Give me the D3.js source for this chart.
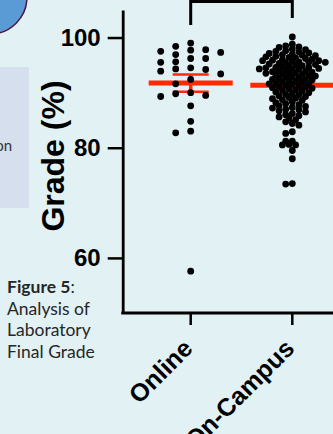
<!DOCTYPE html>
<html>
<head>
<meta charset="utf-8">
<script src="https://cdn.jsdelivr.net/npm/d3@7"></script>
<style>
  html, body { margin: 0; padding: 0; background: #e1f1f4; }
  svg { display: block; }
</style>
</head>
<body>
<svg id="chart" width="333" height="434"></svg>
<script>
// categories
const groups = ['Online', 'On-Campus'];

// grades (%)
const onlineGrades = [
  98.4, 96.9, 95.5, 94.3,
  99.0, 97.8, 96.2, 94.2, 92.4, 89.5,
  97.5, 96.2, 94.5, 91.6, 89.3, 87.6, 84.8, 82.7, 57.6,
  97.7, 93.4, 89.8, 83.0,
  97.3, 95.6, 93.9, 90.0
];

const campusGrades = [
  100.1,
  98.8, 98.5, 98.3, 98.2,
  97.9, 97.6, 97.4, 97.2, 97.0, 97.1, 97.5, 97.8,
  96.9, 96.7, 96.5, 96.3, 96.1, 96.0, 96.8, 96.4, 96.2, 96.6,
  95.9, 95.8, 95.6, 95.5, 95.4, 95.3, 95.1, 95.0, 95.7, 95.2, 95.5, 95.8,
  94.9, 94.7, 94.6, 94.4, 94.3, 94.1, 94.0, 94.8, 94.5, 94.2, 94.6, 94.3,
  93.9, 93.7, 93.5, 93.3, 93.1, 93.0, 93.8, 93.6, 93.4, 93.2, 93.5,
  92.9, 92.7, 92.5, 92.3, 92.1, 92.0, 92.8, 92.6, 92.4, 92.2,
  91.9, 91.7, 91.5, 91.3, 91.1, 91.8, 91.6, 91.2, 91.0,
  90.9, 90.7, 90.5, 90.3, 90.1, 90.8, 90.4, 90.0,
  89.8, 89.6, 89.3, 89.1, 89.7, 89.4, 89.0,
  88.9, 88.6, 88.3, 88.0, 88.7, 88.2,
  87.8, 87.5, 87.2, 87.0, 87.6, 87.3,
  86.9, 86.5, 86.2, 86.7, 86.0,
  85.8, 85.4, 85.1, 85.6,
  84.7, 84.4, 84.1,
  82.9, 82.6,
  81.2, 81.2,
  80.6, 80.5, 80.5,
  79.5,
  78.0,
  73.5, 73.4
];

const yTicks = [60, 80, 100];
const yTitle = 'Grade (%)';
const captionBold = 'Figure 5';
const captionRest = [':', 'Analysis of', 'Laboratory', 'Final Grade'];
const sideFragment = 'on';

const svg = d3.select('#chart');

// decoration on the left (slide background pieces)
svg.append('ellipse')
  .attr('cx', -10).attr('cy', -3)
  .attr('rx', 37).attr('ry', 37)
  .attr('fill', '#5b9bd5')
  .attr('stroke', '#4d1545')
  .attr('stroke-width', 1.5);

svg.append('rect')
  .attr('x', -1).attr('y', 67)
  .attr('width', 30).attr('height', 141)
  .attr('fill', '#d5dfee');

svg.append('text')
  .attr('x', 12).attr('y', 151)
  .attr('text-anchor', 'end')
  .style('font-family', 'Lato, "Open Sans", sans-serif')
  .style('font-size', '15px')
  .attr('fill', '#333')
  .text(sideFragment);

// caption
const caption = svg.append('text')
  .attr('x', 7).attr('y', 293)
  .style('font-family', 'Lato, "Open Sans", sans-serif')
  .style('font-size', '17.5px')
  .attr('fill', '#262626');
caption.append('tspan').style('font-weight', 'bold').text(captionBold);
caption.append('tspan').text(captionRest[0]);
captionRest.slice(1).forEach(line => {
  caption.append('tspan').attr('x', 7).attr('dy', 21.5).text(line);
});

// scales
const y = d3.scaleLinear().domain([50, 105]).range([313, 10]);
const x = d3.scalePoint().domain(groups).range([190.7, 292.3]);

const axisFont = '"Liberation Sans", Arial, sans-serif';

// y axis
const yAxis = svg.append('g')
  .attr('transform', 'translate(122.7,0)')
  .call(d3.axisLeft(y).tickValues(yTicks).tickSize(15).tickPadding(7).tickSizeOuter(0));
yAxis.select('.domain').attr('stroke', '#000').attr('stroke-width', 2.8);
yAxis.selectAll('.tick line').attr('stroke', '#000').attr('stroke-width', 2.5);
yAxis.selectAll('.tick text')
  .attr('fill', '#000')
  .style('font-family', axisFont)
  .style('font-size', '24px')
  .style('font-weight', 'bold');

// x axis
svg.append('line')
  .attr('x1', 121.3).attr('x2', 340)
  .attr('y1', 313).attr('y2', 313)
  .attr('stroke', '#000').attr('stroke-width', 2.8);

const xTicks = svg.append('g');
xTicks.selectAll('line')
  .data(groups)
  .join('line')
  .attr('x1', d => x(d)).attr('x2', d => x(d))
  .attr('y1', 313).attr('y2', 325)
  .attr('stroke', '#000').attr('stroke-width', 2.5);

xTicks.selectAll('text')
  .data(groups)
  .join('text')
  .attr('transform', d => 'translate(' + (x(d) + 3.5) + ',350) rotate(-45)')
  .attr('text-anchor', 'end')
  .style('font-family', axisFont)
  .style('font-size', '25px')
  .style('font-weight', 'bold')
  .attr('fill', '#000')
  .text(d => d);

// y title
svg.append('text')
  .attr('transform', 'translate(64,156) rotate(-90)')
  .attr('text-anchor', 'middle')
  .style('font-family', axisFont)
  .style('font-size', '32px')
  .style('font-weight', 'bold')
  .attr('fill', '#000')
  .text(yTitle);

// significance bracket
svg.append('path')
  .attr('d', 'M' + x('Online') + ',25V1.5H' + x('On-Campus') + 'V18')
  .attr('fill', 'none')
  .attr('stroke', '#000')
  .attr('stroke-width', 3);

// mean and SEM
const series = [
  { name: 'Online', values: onlineGrades, step: 15, minDist: 7 },
  { name: 'On-Campus', values: campusGrades, step: 3.3, minDist: 4.6 }
];

const red = '#ff2a00';
series.forEach(s => {
  const cx = x(s.name);
  const mean = d3.mean(s.values);
  const sem = d3.deviation(s.values) / Math.sqrt(s.values.length);
  const g = svg.append('g').attr('class', 'stats');
  g.append('line')
    .attr('x1', cx).attr('x2', cx)
    .attr('y1', y(mean + sem)).attr('y2', y(mean - sem))
    .attr('stroke', red).attr('stroke-width', 3.5);
  [mean + sem, mean - sem].forEach(v => {
    g.append('line')
      .attr('x1', cx - 18).attr('x2', cx + 18)
      .attr('y1', y(v)).attr('y2', y(v))
      .attr('stroke', red).attr('stroke-width', 2.5);
  });
  g.append('line')
    .attr('x1', cx - 42).attr('x2', cx + 42)
    .attr('y1', y(mean)).attr('y2', y(mean))
    .attr('stroke', red).attr('stroke-width', 5);
});

// simple beeswarm: try the centre, then alternate sides
function swarm(values, cx, step, minDist) {
  const placed = [];
  values.slice().sort((a, b) => b - a).forEach(v => {
    const py = y(v);
    for (let k = 0; k < 60; k++) {
      const off = k === 0 ? 0 : (k % 2 ? -1 : 1) * Math.ceil(k / 2) * step;
      const px = cx + off;
      if (placed.every(p => Math.hypot(p.x - px, p.y - py) >= minDist)) {
        placed.push({ x: px, y: py, v: v });
        break;
      }
    }
  });
  return placed;
}

series.forEach(s => {
  svg.append('g')
    .selectAll('circle')
    .data(swarm(s.values, x(s.name), s.step, s.minDist))
    .join('circle')
    .attr('cx', d => d.x)
    .attr('cy', d => d.y)
    .attr('r', 3.4)
    .attr('fill', '#000');
});
</script>
</body>
</html>
